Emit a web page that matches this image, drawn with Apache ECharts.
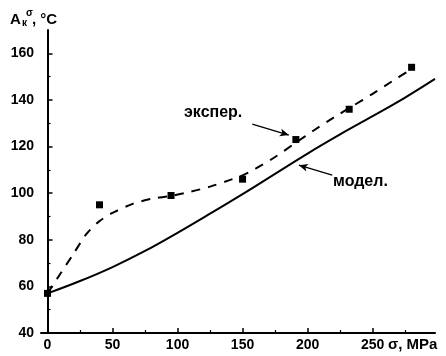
<!DOCTYPE html>
<html>
<head>
<meta charset="utf-8">
<script src="https://cdn.jsdelivr.net/npm/echarts@6/dist/echarts.min.js"></script>
<style>
  html, body { margin: 0; padding: 0; background: #fff; }
  #chart { width: 446px; height: 356px; }
</style>
</head>
<body>
<div id="chart"></div>
<script>
// tick values
var xMajor = [0, 50, 100, 150, 200, 250]
var xMinor = [25, 75, 125, 175, 225, 275]
var yMajor = [40, 60, 80, 100, 120, 140, 160]
var yMinor = [50, 70, 90, 110, 130, 150]

// experimental points (σ, MPa ; A, °C)
var expPoints = [[0, 57], [40, 95], [95, 99], [150, 106], [191, 123], [232, 136], [280, 154]]

// dashed fit through experiment
var expCurve = [
  [0, 57], [10, 65.5], [20, 74], [30, 82.5], [40, 88], [50, 91.5], [65, 95.3],
  [80, 97.6], [95, 98.8], [110, 100.6], [125, 102.8], [140, 105.6], [150, 107.6],
  [160, 110.5], [175, 115.5], [190, 121.3], [205, 127], [220, 132.4], [235, 137.5],
  [250, 142.6], [265, 148], [278, 152.5]
]

// model curve
var modelCurve = [
  [0, 57], [25, 62.3], [50, 68.3], [75, 75.2], [100, 83], [125, 91.2], [150, 99.6],
  [175, 108.3], [200, 117], [225, 125.2], [250, 133], [275, 141], [298, 149]
]

// annotation arrows (from text toward curve)
var expArrow = [[157.5, 129.6], [185.6, 124.9]]
var modelArrow = [[219, 107.7], [193.3, 112]]

var FONT = 'Liberation Sans, Arial, sans-serif'

var chart = echarts.init(document.getElementById('chart'), null, { renderer: 'canvas' })

var option = {
  animation: false,
  backgroundColor: '#fff',
  grid: { left: 41, right: 11, top: 30, bottom: 23 },
  xAxis: [
    {
      type: 'value', min: -5, max: 298,
      splitLine: { show: false },
      axisLine: { lineStyle: { color: '#000', width: 2 } },
      axisTick: { inside: true, length: 5, lineStyle: { color: '#000', width: 1.5 }, customValues: xMajor },
      axisLabel: { customValues: xMajor, color: '#000', fontFamily: FONT, fontWeight: 'bold', fontSize: 14, margin: 5 }
    },
    {
      type: 'value', min: -5, max: 298, position: 'bottom',
      splitLine: { show: false },
      axisLine: { show: false },
      axisTick: { inside: true, length: 3, lineStyle: { color: '#000', width: 1.2 }, customValues: xMinor },
      axisLabel: { show: false, customValues: xMinor }
    }
  ],
  yAxis: [
    {
      type: 'value', min: 40, max: 170,
      splitLine: { show: false },
      axisLine: { lineStyle: { color: '#000', width: 2 } },
      axisTick: { inside: true, length: 5, lineStyle: { color: '#000', width: 1.5 }, customValues: yMajor },
      axisLabel: { customValues: yMajor, color: '#000', fontFamily: FONT, fontWeight: 'bold', fontSize: 14, margin: 7 }
    },
    {
      type: 'value', min: 40, max: 170, position: 'left',
      splitLine: { show: false },
      axisLine: { show: false },
      axisTick: { inside: true, length: 3, lineStyle: { color: '#000', width: 1.2 }, customValues: yMinor },
      axisLabel: { show: false, customValues: yMinor }
    }
  ],
  series: [
    {
      name: 'модел.',
      type: 'line',
      data: modelCurve,
      smooth: 0.4,
      showSymbol: false,
      lineStyle: { color: '#000', width: 2 }
    },
    {
      name: 'экспер.',
      type: 'line',
      data: expCurve,
      smooth: 0.3,
      showSymbol: false,
      lineStyle: { color: '#000', width: 2, type: [9, 8] }
    },
    {
      type: 'scatter',
      data: expPoints,
      symbol: 'rect',
      symbolSize: 7,
      itemStyle: { color: '#000', opacity: 1 },
      markLine: {
        silent: true,
        symbol: ['none', 'arrow'],
        symbolSize: [6, 9],
        label: { show: false },
        lineStyle: { color: '#000', width: 1.3, type: 'solid' },
        data: [
          [{ coord: expArrow[0] }, { coord: expArrow[1] }],
          [{ coord: modelArrow[0] }, { coord: modelArrow[1] }]
        ]
      }
    }
  ],
  graphic: [
    { type: 'text', left: 10, top: 12, style: { text: 'A', font: 'bold 15px ' + FONT, fill: '#000' } },
    { type: 'text', left: 22, top: 18, style: { text: 'к', font: 'bold 10px ' + FONT, fill: '#000' } },
    { type: 'text', left: 26, top: 8, style: { text: 'σ', font: 'bold 10px ' + FONT, fill: '#000' } },
    { type: 'text', left: 32, top: 12, style: { text: ', °C', font: 'bold 15px ' + FONT, fill: '#000' } },
    { type: 'text', left: 388, top: 337, style: { text: 'σ, MPa', font: 'bold 15px ' + FONT, fill: '#000' } },
    { type: 'text', left: 184, top: 105, style: { text: 'экспер.', font: 'bold 16px ' + FONT, fill: '#000' } },
    { type: 'text', left: 333, top: 174, style: { text: 'модел.', font: 'bold 16px ' + FONT, fill: '#000' } }
  ]
}

chart.setOption(option)
</script>
</body>
</html>
